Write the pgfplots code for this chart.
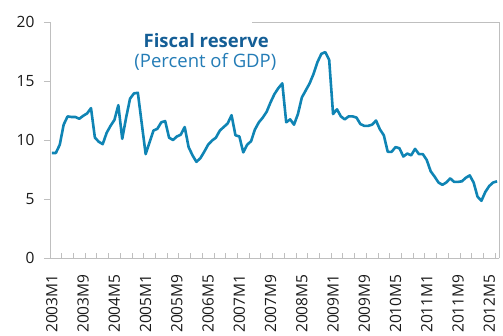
\documentclass[border=0pt]{standalone}
\usepackage{pgfplots}
\pgfplotsset{compat=1.18}
\usepackage{fontspec}
\setmainfont{Open Sans}
\definecolor{linec}{RGB}{15,132,180}
\definecolor{titlec}{RGB}{20,94,150}
\definecolor{subc}{RGB}{36,124,182}
\definecolor{framec}{RGB}{191,191,191}
\begin{document}
\begin{tikzpicture}
\begin{axis}[
  at={(0,0)}, anchor=south west,
  scale only axis, width=449pt, height=236pt,
  xmin=-0.5, xmax=114.5, ymin=0, ymax=20,
  axis x line*=bottom, axis y line*=left,
  axis line style={draw=framec, line width=0.8pt},
  ytick={0,5,10,15,20},
  xtick={0,8,...,112},
  xticklabels={2003M1,2003M9,2004M5,2005M1,2005M9,2006M5,2007M1,2007M9,2008M5,2009M1,2009M9,2010M5,2011M1,2011M9,2012M5},
  minor xtick={2.5,5.5,...,113.5},
  tick align=outside,
  major tick length=6pt, minor tick length=5pt,
  every tick/.style={draw=framec, line width=0.8pt},
  every major x tick/.append style={draw=none},
  every minor x tick/.append style={yshift=5pt},
  /pgf/number format/assume math mode=true,
  tick label style={font=\fontsize{15.5}{18}\selectfont, text=black!90},
  x tick label style={yshift=-7pt, rotate=90, anchor=east},
  yticklabel style={xshift=-6pt},
  clip=false,
]
\addplot[linec, line width=2.6pt, line join=round] coordinates {
(0,8.9)(1,8.9)(2,9.6)(3,11.3)(4,12.0)(5,11.95)(6,11.95)(7,11.8)(8,12.05)(9,12.25)
(10,12.7)(11,10.2)(12,9.85)(13,9.65)(14,10.6)(15,11.2)(16,11.7)(17,12.95)(18,10.1)(19,11.9)
(20,13.5)(21,13.95)(22,14.0)(23,11.4)(24,8.8)(25,9.8)(26,10.8)(27,10.95)(28,11.5)(29,11.6)
(30,10.2)(31,10.0)(32,10.3)(33,10.45)(34,11.1)(35,9.4)(36,8.7)(37,8.15)(38,8.45)(39,9.0)
(40,9.6)(41,9.95)(42,10.2)(43,10.8)(44,11.1)(45,11.4)(46,12.1)(47,10.4)(48,10.3)(49,8.95)
(50,9.6)(51,9.9)(52,10.9)(53,11.5)(54,11.9)(55,12.4)(56,13.2)(57,13.9)(58,14.4)(59,14.8)
(60,11.5)(61,11.75)(62,11.3)(63,12.2)(64,13.6)(65,14.2)(66,14.8)(67,15.6)(68,16.6)(69,17.3)
(70,17.45)(71,16.8)(72,12.2)(73,12.6)(74,12.0)(75,11.75)(76,12.0)(77,12.0)(78,11.9)(79,11.35)
(80,11.2)(81,11.2)(82,11.3)(83,11.65)(84,10.9)(85,10.4)(86,9.0)(87,9.0)(88,9.4)(89,9.3)
(90,8.6)(91,8.85)(92,8.7)(93,9.25)(94,8.8)(95,8.8)(96,8.3)(97,7.35)(98,6.9)(99,6.4)
(100,6.2)(101,6.4)(102,6.75)(103,6.45)(104,6.45)(105,6.5)(106,6.8)(107,7.0)(108,6.4)(109,5.2)
(110,4.85)(111,5.6)(112,6.1)(113,6.4)(114,6.5)
};
\draw[framec, line width=0.8pt] (rel axis cs:1,0) -- (rel axis cs:1,1);
\draw[framec, line width=0.8pt] (rel axis cs:0.45,1) -- (rel axis cs:1,1);
\node[text=titlec, font=\fontsize{18.5}{22}\selectfont\bfseries] at (axis cs:39.5,18.45) {Fiscal reserve};
\node[text=subc, font=\fontsize{18.5}{22}\selectfont] at (axis cs:39.3,16.65) {(Percent of GDP)};
\end{axis}
\pgfresetboundingbox
\path[use as bounding box] (-50pt,-77pt) rectangle (453pt,258pt);
\end{tikzpicture}
\end{document}
